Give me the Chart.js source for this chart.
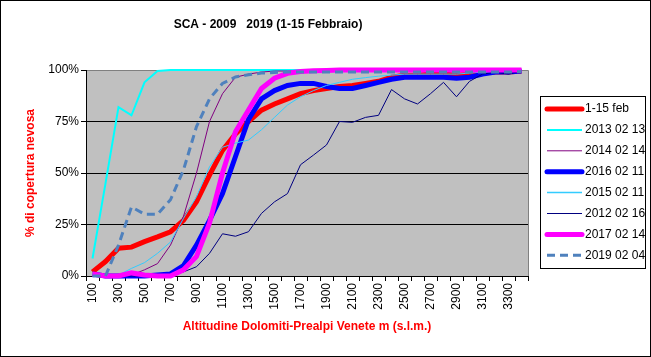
<!DOCTYPE html>
<html><head><meta charset="utf-8">
<script src="https://cdn.jsdelivr.net/npm/chart.js@4/dist/chart.umd.min.js"></script>
<style>html,body{margin:0;padding:0;background:#fff}#wrap{width:651px;height:357px;position:relative}</style>
</head><body><div id="wrap"><canvas id="c"></canvas></div>
<script>
const altitudes = [100,200,300,400,500,600,700,800,900,1000,1100,1200,1300,1400,1500,1600,1700,1800,1900,2000,2100,2200,2300,2400,2500,2600,2700,2800,2900,3000,3100,3200,3300,3400];
const feb1_15 = [2,7,13.5,14,16.7,19,21.5,27,36,49,61,69,75,80.5,83.5,86,88.5,90,91,92,92.5,93.5,94.5,96.5,97.5,97.5,98,98,97.5,98,98.5,99,99,99.5];
const s2013_02_13 = [8.5,45,82,78,94,99.5,100,100,100,100,100,100,100,100,100,100,100,100,100,100,100,100,100,100,100,100,100,100,100,100,100,100,100,100];
const s2014_02_14 = [0,0,0,0.5,3,6,15,29,50,75,88.5,96.5,98,99,99.5,99.5,99.7,99.7,99.7,99.7,99.8,99.8,99.8,99.8,99.8,99.8,99.8,99.8,99.8,99.8,99.8,99.8,99.8,99.8];
const s2016_02_11 = [1,0,0,0,0,0.5,1,5,15,27,40,58,76,86,90,92.5,93.5,93.5,92,91,91,92.5,94,95.5,96.5,96.5,96.5,96.5,96,96.5,98,99,99,99.5];
const s2015_02_11 = [1,0,0.5,3.7,6.5,11,16.5,28,38.5,53,62.5,64.5,66,71,77,83,87,90,92.5,94,95.5,96.3,97,97.5,98,98,98,98,98,98.5,99,99,99.5,99.5];
const s2012_02_16 = [0,0,0,0,0,0,0.5,2,4.5,11,20.5,19.3,21.5,30.4,36,40,54,58.7,63.6,75,74.6,77,78,90.5,86,83.5,88.5,94,87,94.5,98,99,98,99.5];
const s2017_02_14 = [1,0,0,1.5,0.5,0,0,3,9.5,25.7,50,70,80.6,91,96,98.4,99.3,99.6,99.8,100,100,100,100,100,100,100,100,100,100,100,100,100,100,100];
const s2019_02_04 = [0,0,15,33.5,30,30,37,51.5,72.5,86,93.5,96.6,97.7,98.5,98.8,99,99,99,99,99,99,99,99,99,99,99,99,99,99,99,99,99,99,99.3];
const yTickValues = [0,25,50,75,100];

const FONT = "'Liberation Sans', Arial, sans-serif";

const seriesDefs = [
  {label:'1-15 feb', data:feb1_15, color:'#FF0000', width:5, legendWidth:5},
  {label:'2013 02 13', data:s2013_02_13, color:'#00FFFF', width:2, legendWidth:2},
  {label:'2014 02 14', data:s2014_02_14, color:'#800080', width:1, legendWidth:1},
  {label:'2016 02 11', data:s2016_02_11, color:'#0000FF', width:5, legendWidth:5},
  {label:'2015 02 11', data:s2015_02_11, color:'#33CCFF', width:1, legendWidth:1.5},
  {label:'2012 02 16', data:s2012_02_16, color:'#000080', width:1, legendWidth:1},
  {label:'2017 02 14', data:s2017_02_14, color:'#FF00FF', width:5, legendWidth:5},
  {label:'2019 02 04', data:s2019_02_04, color:'#4F81BD', width:3, legendWidth:3, dash:[8,5]}
];
const n = seriesDefs.length;
const datasets = seriesDefs.map((s,i)=>({
  label:s.label, data:s.data, borderColor:s.color, backgroundColor:s.color,
  borderWidth:s.width, borderDash:s.dash||[], pointRadius:0, pointHoverRadius:0,
  tension:0, fill:false, clip:false, order:n-i, legendWidth:s.legendWidth
}));

const decor = {
  id:'decor',
  beforeDraw(chart){
    const {ctx, chartArea:a} = chart;
    ctx.save();
    ctx.fillStyle='#fff'; ctx.fillRect(0,0,chart.width,chart.height);
    ctx.fillStyle='#C0C0C0'; ctx.fillRect(a.left,a.top,a.right-a.left,a.bottom-a.top);
    ctx.strokeStyle='#808080'; ctx.lineWidth=1;
    ctx.beginPath();
    ctx.moveTo(a.left,a.top+0.5); ctx.lineTo(a.right+0.5,a.top+0.5); ctx.lineTo(a.right+0.5,a.bottom);
    ctx.stroke();
    ctx.restore();
  },
  afterDraw(chart){
    const {ctx, chartArea:a} = chart;
    ctx.save();
    ctx.strokeStyle='#000'; ctx.lineWidth=1;
    ctx.strokeRect(0.5,0.5,chart.width-1,chart.height-1);
    ctx.fillStyle='#000'; ctx.font='bold 12px '+FONT;
    ctx.textAlign='center'; ctx.textBaseline='middle';
    ctx.fillText('SCA - 2009   2019 (1-15 Febbraio)', 268, 25);
    const lx = a.right + 12, ly = 96, lw = 105, lh = 172;
    ctx.strokeStyle='#000'; ctx.lineWidth=1;
    ctx.strokeRect(lx+0.5, ly+0.5, lw, lh);
    ctx.font='12px '+FONT; ctx.textAlign='left'; ctx.textBaseline='middle';
    chart.data.datasets.forEach((d,i)=>{
      const y = ly + 13 + i*20.9;
      ctx.save();
      ctx.strokeStyle=d.borderColor; ctx.lineWidth=d.legendWidth;
      ctx.setLineDash(d.borderDash||[]);
      ctx.lineCap = d.legendWidth>=4 ? 'round':'butt';
      ctx.beginPath(); ctx.moveTo(lx+7, y); ctx.lineTo(lx+42, y); ctx.stroke();
      ctx.restore();
      ctx.fillStyle='#000';
      ctx.fillText(d.label, lx+45, y);
    });
    ctx.restore();
  }
};

new Chart(document.getElementById('c'), {
  type:'line',
  data:{labels:altitudes.map(String), datasets},
  options:{
    responsive:true, maintainAspectRatio:false, animation:false,
    layout:{padding:{left:20,right:123,top:70,bottom:21}},
    plugins:{legend:{display:false}, tooltip:{enabled:false}, title:{display:false}},
    scales:{
      x:{
        type:'category', offset:true,
        grid:{display:true, drawOnChartArea:false, offset:true, color:'#000', tickColor:'#000', tickLength:5},
        border:{display:true, color:'#000', width:1},
        ticks:{autoSkip:false, maxRotation:90, minRotation:90, color:'#000', padding:2,
          font:{family:FONT, size:12},
          callback:function(v,i){ return i%2===0 ? this.getLabelForValue(v) : ''; }},
        title:{display:true, text:'Altitudine Dolomiti-Prealpi Venete m (s.l.m.)', color:'#FF0000',
          font:{family:FONT, size:12, weight:'bold'}, padding:{top:0,bottom:2}},
        afterFit(s){ s.height = 60; }
      },
      y:{
        min:0, max:100,
        afterBuildTicks(s){ s.ticks = yTickValues.map(v=>({value:v})); },
        grid:{color:(c)=> (c.tick && (c.tick.value===25||c.tick.value===50||c.tick.value===75)) ? '#000' : 'rgba(0,0,0,0)',
          tickColor:'#000', tickLength:5, lineWidth:1},
        border:{display:true, color:'#000', width:1},
        ticks:{color:'#000', padding:2, font:{family:FONT, size:12}, callback:(v)=>v+'%'},
        title:{display:true, text:'% di copertura nevosa', color:'#FF0000',
          font:{family:FONT, size:12, weight:'bold'}, padding:{top:3,bottom:0}},
        afterFit(s){ s.width = 66; }
      }
    }
  },
  plugins:[decor]
});
</script>
</body></html>
